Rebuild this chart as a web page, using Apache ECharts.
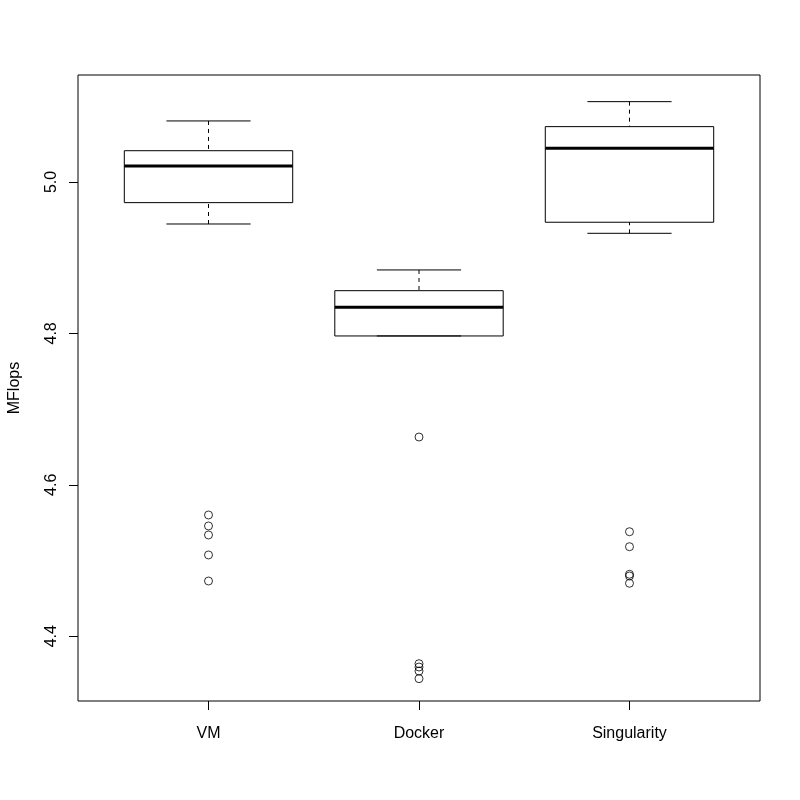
<!DOCTYPE html>
<html>
<head>
<meta charset="utf-8">
<script src="https://cdn.jsdelivr.net/npm/echarts@6/dist/echarts.min.js"></script>
<style>
html,body{margin:0;padding:0;background:#fff;}
#chart{width:800px;height:800px;}
</style>
</head>
<body>
<div id="chart"></div>
<script>
const categories = ['VM', 'Docker', 'Singularity'];
const whiskerLow  = [4.9445, 4.7966, 4.9322];
const q1          = [4.9727, 4.7966, 4.9468];
const median      = [5.0211, 4.8345, 5.0445];
const q3          = [5.0413, 4.8564, 5.0731];
const whiskerHigh = [5.0806, 4.8838, 5.1061];
const outliersVM = [4.5601, 4.5456, 4.5337, 4.5073, 4.4729];
const outliersDocker = [4.6631, 4.3637, 4.3593, 4.3540, 4.3439];
const outliersSingularity = [4.5380, 4.5182, 4.4818, 4.4795, 4.4699];
const yTicks = [4.4, 4.6, 4.8, 5.0];
const yLabel = 'MFlops';

const FONT = '"Liberation Sans", Arial, Helvetica, sans-serif';
const xPos = categories.map((c, i) => i + 1);

const boxData = categories.map((c, i) => [xPos[i], whiskerLow[i], q1[i], median[i], q3[i], whiskerHigh[i]]);
const outlierData = [];
[outliersVM, outliersDocker, outliersSingularity].forEach((arr, i) => {
  arr.forEach(v => outlierData.push([xPos[i], v]));
});

const chart = echarts.init(document.getElementById('chart'), null, {renderer: 'canvas'});

function renderBox(params, api) {
  const x = api.value(0);
  const lo = api.value(1), a = api.value(2), m = api.value(3), b = api.value(4), hi = api.value(5);
  const hw = 0.4, cw = 0.2;
  const pTL = api.coord([x - hw, b]);
  const pBR = api.coord([x + hw, a]);
  const c = api.coord([x, m]);
  const pHi = api.coord([x, hi]);
  const pLo = api.coord([x, lo]);
  const pB = api.coord([x, b]);
  const pA = api.coord([x, a]);
  const capL = api.coord([x - cw, hi])[0];
  const capR = api.coord([x + cw, hi])[0];
  const medL = api.coord([x - hw, m])[0];
  const medR = api.coord([x + hw, m])[0];
  const stroke = {stroke: '#000', lineWidth: 1, fill: null};
  return {
    type: 'group',
    children: [
      {type: 'line', shape: {x1: pHi[0], y1: pHi[1], x2: pB[0], y2: pB[1]}, style: {stroke: '#000', lineWidth: 1, lineDash: [4, 4]}},
      {type: 'line', shape: {x1: pLo[0], y1: pLo[1], x2: pA[0], y2: pA[1]}, style: {stroke: '#000', lineWidth: 1, lineDash: [4, 4]}},
      {type: 'line', shape: {x1: capL, y1: pHi[1], x2: capR, y2: pHi[1]}, style: stroke},
      {type: 'line', shape: {x1: capL, y1: pLo[1], x2: capR, y2: pLo[1]}, style: stroke},
      {type: 'rect', shape: {x: pTL[0], y: pTL[1], width: pBR[0] - pTL[0], height: pBR[1] - pTL[1]}, style: {stroke: '#000', lineWidth: 1, fill: 'rgba(0,0,0,0)'}},
      {type: 'line', shape: {x1: medL, y1: c[1], x2: medR, y2: c[1]}, style: {stroke: '#000', lineWidth: 3}}
    ]
  };
}

const option = {
  backgroundColor: '#fff',
  animation: false,
  grid: {left: 78, right: 40, top: 75, bottom: 99, outerBoundsMode: 'none', containLabel: false,
         show: true, borderColor: '#000', borderWidth: 1, backgroundColor: 'transparent'},
  xAxis: {
    type: 'value', min: 0.38, max: 3.62,
    axisLine: {show: false},
    splitLine: {show: false},
    axisTick: {show: true, customValues: xPos, length: 9, lineStyle: {color: '#000'}},
    axisLabel: {customValues: xPos, formatter: v => categories[Math.round(v) - 1], margin: 25, fontSize: 16, color: '#000', fontFamily: FONT}
  },
  yAxis: {
    type: 'value', min: 4.3144, max: 5.1413,
    name: yLabel, nameLocation: 'middle', nameGap: 55, nameRotate: 90,
    nameTextStyle: {fontSize: 16, color: '#000', fontFamily: FONT},
    axisLine: {show: false},
    splitLine: {show: false},
    axisTick: {show: true, customValues: yTicks, length: 9, lineStyle: {color: '#000'}},
    axisLabel: {customValues: yTicks, formatter: v => v.toFixed(1), rotate: 90, margin: 18, fontSize: 16, color: '#000', fontFamily: FONT}
  },
  series: [
    {type: 'custom', renderItem: renderBox, data: boxData, encode: {x: 0, y: [1, 2, 3, 4, 5]}, silent: true},
    {type: 'scatter', data: outlierData, symbol: 'circle', symbolSize: 8,
     itemStyle: {color: 'rgba(0,0,0,0)', borderColor: '#000', borderWidth: 1}, silent: true}
  ]
};
chart.setOption(option);
</script>
</body>
</html>
